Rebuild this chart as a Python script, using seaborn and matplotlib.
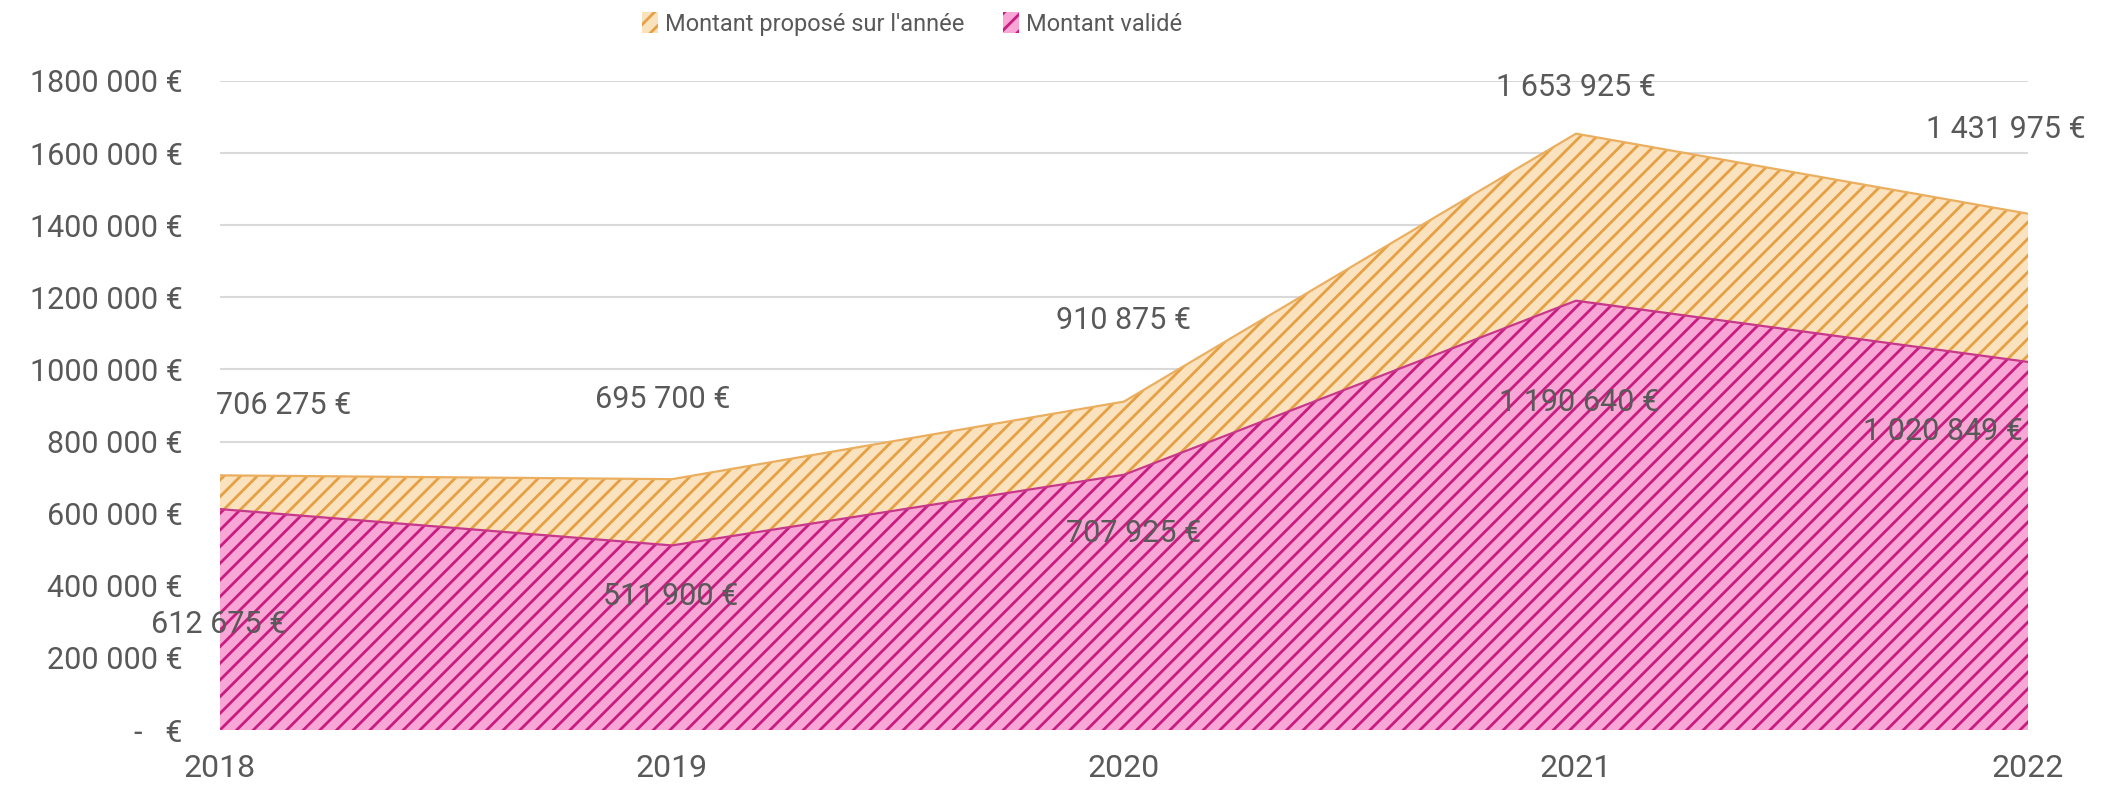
import matplotlib
matplotlib.use("Agg")
import matplotlib.pyplot as plt
import matplotlib.patches as mpatches
import seaborn as sns
import pandas as pd

# Data
YEARS = [2018, 2019, 2020, 2021, 2022]
PROPOSED = [706275, 695700, 910875, 1653925, 1431975]
VALIDATED = [612675, 511900, 707925, 1190640, 1020849]
PROPOSED_LABELS = ["706 275 €", "695 700 €", "910 875 €", "1 653 925 €", "1 431 975 €"]
VALIDATED_LABELS = ["612 675 €", "511 900 €", "707 925 €", "1 190 640 €", "1 020 849 €"]
Y_TICKS = [0, 200000, 400000, 600000, 800000, 1000000, 1200000, 1400000, 1600000, 1800000]
Y_TICK_LABELS = ["-   €", "200 000 €", "400 000 €", "600 000 €", "800 000 €",
                 "1000 000 €", "1200 000 €", "1400 000 €", "1600 000 €", "1800 000 €"]

# Label offsets (pixels) relative to each point, as placed by the original
PROP_OFFSETS = [(64, 70), (-9, 80), (-1, 81), (0, 46), (-22, 84)]
VAL_OFFSETS = [(-1, -115), (-1, -51), (10, -59), (3, -102), (-85, -70)]

TEXT = "#595959"
ORANGE_FILL, ORANGE_HATCH = "#FBE2BF", "#E5A043"
PINK_FILL, PINK_HATCH = "#F8A6D5", "#C81C80"

sns.set_theme(style="white")
plt.rcParams['font.family'] = ['Roboto', 'DejaVu Sans']
plt.rcParams['hatch.linewidth'] = 2.0

df = pd.DataFrame({'Année': YEARS, 'Proposé': PROPOSED, 'Validé': VALIDATED})

fig = plt.figure(figsize=(21.21, 7.85), dpi=100)
ax = fig.add_axes([220 / 2121, 1 - 730 / 785, (2028 - 220) / 2121, (730 - 81) / 785])

# Areas (not stacked: validated drawn over proposed)
ax.fill_between(df['Année'], 0, df['Proposé'], facecolor=ORANGE_FILL,
                edgecolor=ORANGE_HATCH, hatch='//', linewidth=0, zorder=2)
ax.fill_between(df['Année'], 0, df['Validé'], facecolor=PINK_FILL,
                edgecolor=PINK_HATCH, hatch='//', linewidth=0, zorder=3)
sns.lineplot(data=df, x='Année', y='Proposé', color="#EBAE5E", linewidth=1.6, ax=ax, zorder=2.5)
sns.lineplot(data=df, x='Année', y='Validé', color="#C8388A", linewidth=1.6, ax=ax, zorder=3.5)

# Data labels
for x, y, lab, off in zip(YEARS, PROPOSED, PROPOSED_LABELS, PROP_OFFSETS):
    ax.annotate(lab, (x, y), xytext=off, textcoords='offset pixels',
                ha='center', va='center', fontsize=22, color=TEXT, zorder=5)
for x, y, lab, off in zip(YEARS, VALIDATED, VALIDATED_LABELS, VAL_OFFSETS):
    ax.annotate(lab, (x, y), xytext=off, textcoords='offset pixels',
                ha='center', va='center', fontsize=22, color=TEXT, zorder=5)

# Axes styling
ax.set_xlim(YEARS[0], YEARS[-1])
ax.set_ylim(0, 1800000)
ax.set_xticks(YEARS)
ax.set_xticklabels([str(y) for y in YEARS])
ax.set_yticks(Y_TICKS)
ax.set_yticklabels(Y_TICK_LABELS)
ax.tick_params(axis='y', length=0, pad=27, labelsize=22, labelcolor=TEXT)
ax.tick_params(axis='x', length=0, pad=17, labelsize=23, labelcolor=TEXT)
ax.set_xlabel('')
ax.set_ylabel('')
ax.yaxis.grid(True, color="#D9D9D9", linewidth=1.5)
ax.set_axisbelow(True)
for s in ax.spines.values():
    s.set_visible(False)

# Legend
handles = [
    mpatches.Patch(facecolor=ORANGE_FILL, edgecolor=ORANGE_HATCH, hatch='//', linewidth=0,
                   label="Montant proposé sur l'année"),
    mpatches.Patch(facecolor=PINK_FILL, edgecolor=PINK_HATCH, hatch='//', linewidth=0,
                   label="Montant validé"),
]
fig.legend(handles=handles, loc='center', bbox_to_anchor=(912 / 2121, 1 - 24 / 785),
           ncol=2, frameon=False, fontsize=17, labelcolor=TEXT,
           handlelength=0.7, handleheight=1.0, handletextpad=0.3, columnspacing=1.6)

fig.savefig("out.png", dpi=100)
